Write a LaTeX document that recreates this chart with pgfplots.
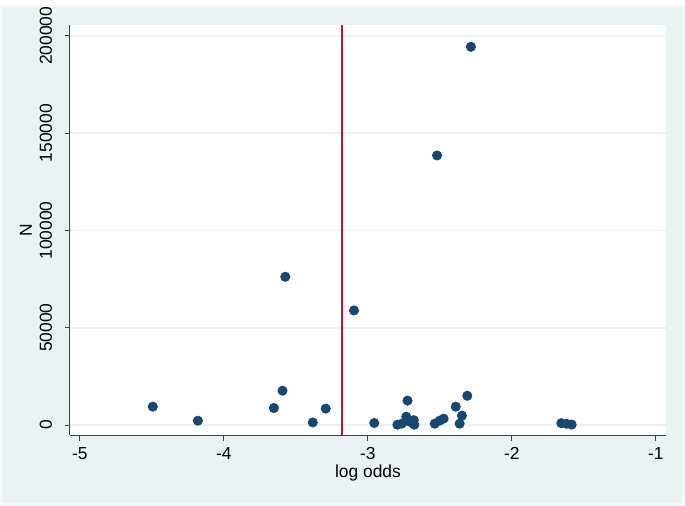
\documentclass[border=0pt]{standalone}
\usepackage{fontspec}
\setmainfont{Liberation Sans}
\usepackage{graphicx}
\usepackage{pgfplots}
\pgfplotsset{compat=1.18}
\definecolor{bgstata}{RGB}{234,242,243}
\definecolor{gridc}{RGB}{234,242,243}
\definecolor{navy}{RGB}{26,71,111}
\definecolor{vline}{RGB}{196,18,48}
\newcommand{\ry}[1]{\raisebox{-0.5\height}{\rotatebox{90}{#1}}}
\begin{document}
\begin{tikzpicture}
\fill[bgstata] (-35pt,-35.15pt) rectangle (307.5pt,215.25pt);
\draw[white!55!bgstata, line width=1.2pt] (-34.4pt,-34.55pt) rectangle (306.9pt,214.65pt);
\begin{axis}[
  scale only axis, width=298pt, height=205pt,
  at={(0,0)}, anchor=south west,
  axis background/.style={fill=white},
  axis lines*=left,
  axis line style={draw=black!75, line width=0.5pt},
  xmin=-5.069, xmax=-0.93, ymin=-5236, ymax=205320,
  xtick={-5,-4,-3,-2,-1},
  xticklabels={-5,-4,-3,-2,-1},
  ytick={0,50000,100000,150000,200000},
  yticklabels={\ry{0},\ry{50000},\ry{100000},\ry{150000},\ry{200000}},
  tick align=outside, major tick length=2.6pt,
  tick style={draw=black!75, line width=0.5pt},
  ymajorgrids, grid style={draw=gridc, line width=0.8pt},
  scaled y ticks=false,
  ticklabel style={font=\fontsize{8.7}{10}\selectfont},
  yticklabel style={xshift=-2.8pt},
  xlabel={log odds}, ylabel={N},
  label style={font=\fontsize{8.7}{10}\selectfont},
  xlabel style={at={(axis description cs:0.5,0)}, anchor=center, yshift=-19pt},
  ylabel style={at={(axis description cs:0,0.5)}, anchor=center, yshift=22pt},
  clip=false,
]
\addplot[vline, line width=1pt] coordinates {(-3.18,-5236) (-3.18,205320)};
\addplot[only marks, mark=*, mark size=2.3pt, mark options={draw=navy, fill=navy}, color=navy] coordinates {
(-2.285,194300) (-2.520,138500) (-3.574,76200) (-3.097,58900)
(-3.593,17700) (-4.494,9500) (-4.181,2300) (-3.653,8800)
(-3.383,1400) (-3.293,8500) (-2.956,1100)
(-2.725,12600)
(-2.795,250) (-2.765,770) (-2.734,4360) (-2.710,1800) (-2.682,2570) (-2.678,250)
(-2.536,770) (-2.502,2300) (-2.474,3340)
(-2.390,9500) (-2.310,15100) (-2.347,4900) (-2.363,770)
(-1.657,1000) (-1.620,700) (-1.585,300)
};
\end{axis}
\end{tikzpicture}
\end{document}
